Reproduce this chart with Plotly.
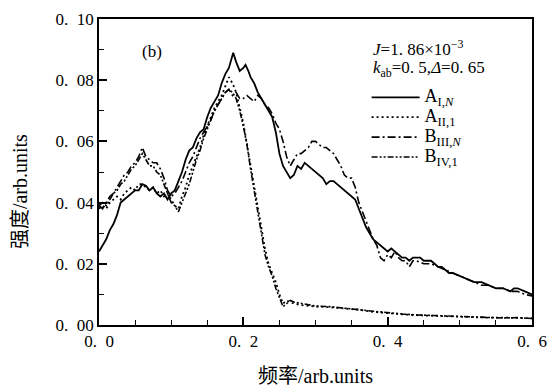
import plotly.graph_objects as go

# ---------------- data ----------------
x_AI = [0.000, 0.005, 0.010, 0.015, 0.020, 0.025, 0.030, 0.035, 0.040, 0.045, 0.050, 0.055, 0.060, 0.065,
        0.070, 0.075, 0.080, 0.085, 0.090, 0.095, 0.100, 0.105, 0.110, 0.115, 0.120, 0.125, 0.130, 0.135,
        0.140, 0.145, 0.150, 0.155, 0.160, 0.165, 0.170, 0.175, 0.180, 0.183, 0.186, 0.190, 0.195, 0.200,
        0.203, 0.207, 0.210, 0.215, 0.220, 0.225, 0.230, 0.235, 0.240, 0.245, 0.250, 0.255, 0.260, 0.265,
        0.270, 0.275, 0.280, 0.285, 0.290, 0.295, 0.300, 0.305, 0.310, 0.315, 0.320, 0.325, 0.330, 0.335,
        0.340, 0.345, 0.350, 0.355, 0.360, 0.365, 0.370, 0.375, 0.380, 0.385, 0.390, 0.395, 0.400, 0.405,
        0.410, 0.415, 0.420, 0.425, 0.430, 0.435, 0.440, 0.445, 0.450, 0.455, 0.460, 0.465, 0.470, 0.475,
        0.480, 0.485, 0.490, 0.500, 0.510, 0.520, 0.530, 0.540, 0.550, 0.560, 0.570, 0.575, 0.580, 0.590,
        0.600]
y_AI = [0.024, 0.026, 0.028, 0.031, 0.033, 0.036, 0.040, 0.041, 0.042, 0.043, 0.044, 0.044, 0.046, 0.0455,
        0.044, 0.045, 0.043, 0.042, 0.043, 0.041, 0.043, 0.044, 0.047, 0.050, 0.054, 0.057, 0.058, 0.061,
        0.063, 0.064, 0.068, 0.071, 0.073, 0.075, 0.079, 0.082, 0.084, 0.087, 0.089, 0.086, 0.083, 0.084,
        0.085, 0.083, 0.081, 0.079, 0.076, 0.074, 0.072, 0.070, 0.068, 0.063, 0.056, 0.052, 0.050, 0.048,
        0.049, 0.052, 0.051, 0.053, 0.052, 0.051, 0.050, 0.049, 0.048, 0.046, 0.047, 0.047, 0.046, 0.045,
        0.044, 0.043, 0.042, 0.041, 0.038, 0.035, 0.032, 0.030, 0.028, 0.027, 0.026, 0.025, 0.024, 0.025,
        0.024, 0.023, 0.022, 0.022, 0.021, 0.022, 0.022, 0.022, 0.021, 0.021, 0.021, 0.020, 0.019, 0.019,
        0.018, 0.017, 0.017, 0.016, 0.015, 0.014, 0.014, 0.013, 0.012, 0.012, 0.011, 0.012, 0.012, 0.011,
        0.010]

x_AII = [0.000, 0.005, 0.010, 0.015, 0.020, 0.025, 0.030, 0.035, 0.040, 0.045, 0.050, 0.055, 0.060, 0.065,
         0.070, 0.075, 0.080, 0.085, 0.090, 0.095, 0.100, 0.105, 0.110, 0.115, 0.120, 0.125, 0.130, 0.135,
         0.140, 0.145, 0.150, 0.155, 0.160, 0.165, 0.170, 0.175, 0.180, 0.185, 0.190, 0.195, 0.200, 0.205,
         0.210, 0.215, 0.220, 0.225, 0.230, 0.235, 0.240, 0.245, 0.250, 0.255, 0.260, 0.270, 0.280, 0.300,
         0.320, 0.340, 0.360, 0.380, 0.400, 0.420, 0.440, 0.460, 0.480, 0.500, 0.520, 0.540, 0.560, 0.580,
         0.600]
y_AII = [0.038, 0.039, 0.038, 0.040, 0.041, 0.042, 0.041, 0.043, 0.044, 0.045, 0.044, 0.046, 0.046, 0.045,
         0.044, 0.045, 0.043, 0.044, 0.042, 0.043, 0.041, 0.039, 0.038, 0.042, 0.045, 0.049, 0.052, 0.055,
         0.058, 0.062, 0.065, 0.068, 0.071, 0.073, 0.075, 0.078, 0.081, 0.079, 0.076, 0.071, 0.066, 0.059,
         0.052, 0.045, 0.039, 0.032, 0.025, 0.020, 0.017, 0.014, 0.010, 0.007, 0.008, 0.007, 0.0065, 0.006,
         0.0058, 0.0055, 0.005, 0.0043, 0.0038, 0.0035, 0.0032, 0.0030, 0.0028, 0.0027, 0.0025, 0.0024, 0.0024, 0.0023,
         0.0022]

x_BIII = [0.000, 0.005, 0.010, 0.015, 0.020, 0.025, 0.030, 0.035, 0.040, 0.045, 0.050, 0.055, 0.060, 0.065,
          0.070, 0.075, 0.080, 0.085, 0.090, 0.095, 0.100, 0.105, 0.110, 0.115, 0.120, 0.125, 0.130, 0.135,
          0.140, 0.145, 0.150, 0.155, 0.160, 0.165, 0.170, 0.175, 0.180, 0.185, 0.190, 0.195, 0.200, 0.205,
          0.210, 0.215, 0.220, 0.225, 0.230, 0.235, 0.240, 0.245, 0.250, 0.255, 0.260, 0.265, 0.270, 0.275,
          0.280, 0.285, 0.290, 0.295, 0.300, 0.305, 0.310, 0.315, 0.320, 0.325, 0.330, 0.335, 0.340, 0.345,
          0.350, 0.355, 0.360, 0.365, 0.370, 0.375, 0.380, 0.385, 0.390, 0.395, 0.400, 0.405, 0.410, 0.415,
          0.420, 0.425, 0.430, 0.435, 0.440, 0.450, 0.460, 0.470, 0.480, 0.490, 0.500, 0.510, 0.520, 0.530,
          0.540, 0.550, 0.560, 0.570, 0.580, 0.590, 0.600]
y_BIII = [0.039, 0.038, 0.040, 0.042, 0.043, 0.045, 0.047, 0.049, 0.050, 0.052, 0.053, 0.055, 0.058, 0.055,
          0.054, 0.053, 0.053, 0.051, 0.048, 0.044, 0.042, 0.043, 0.045, 0.047, 0.050, 0.053, 0.055, 0.058,
          0.061, 0.063, 0.065, 0.067, 0.070, 0.072, 0.074, 0.076, 0.077, 0.075, 0.076, 0.074, 0.074, 0.075,
          0.074, 0.073, 0.075, 0.074, 0.072, 0.071, 0.069, 0.066, 0.064, 0.060, 0.055, 0.052, 0.054, 0.056,
          0.056, 0.057, 0.058, 0.060, 0.060, 0.059, 0.058, 0.058, 0.057, 0.056, 0.054, 0.052, 0.049, 0.048,
          0.048, 0.045, 0.040, 0.037, 0.034, 0.031, 0.028, 0.026, 0.022, 0.021, 0.023, 0.022, 0.024, 0.022,
          0.021, 0.021, 0.019, 0.021, 0.021, 0.020, 0.020, 0.019, 0.018, 0.017, 0.016, 0.015, 0.014, 0.013,
          0.013, 0.012, 0.012, 0.011, 0.011, 0.010, 0.0095]

x_BIV = [0.000, 0.005, 0.010, 0.015, 0.020, 0.025, 0.030, 0.035, 0.040, 0.045, 0.050, 0.055, 0.060, 0.065,
         0.070, 0.075, 0.080, 0.085, 0.090, 0.095, 0.100, 0.105, 0.110, 0.115, 0.120, 0.125, 0.130, 0.135,
         0.140, 0.145, 0.150, 0.155, 0.160, 0.165, 0.170, 0.175, 0.180, 0.185, 0.190, 0.195, 0.200, 0.205,
         0.210, 0.215, 0.220, 0.225, 0.230, 0.235, 0.240, 0.245, 0.250, 0.255, 0.260, 0.265, 0.270, 0.280,
         0.300, 0.320, 0.340, 0.360, 0.380, 0.400, 0.420, 0.440, 0.460, 0.480, 0.500, 0.520, 0.540, 0.560,
         0.580, 0.600]
y_BIV = [0.039, 0.040, 0.039, 0.041, 0.043, 0.044, 0.046, 0.047, 0.049, 0.051, 0.052, 0.054, 0.056, 0.054,
         0.052, 0.052, 0.050, 0.049, 0.046, 0.043, 0.040, 0.039, 0.037, 0.040, 0.043, 0.046, 0.050, 0.054,
         0.057, 0.061, 0.064, 0.067, 0.070, 0.072, 0.074, 0.076, 0.077, 0.076, 0.074, 0.070, 0.065, 0.059,
         0.051, 0.044, 0.037, 0.030, 0.023, 0.019, 0.016, 0.012, 0.009, 0.006, 0.007, 0.008, 0.0075, 0.007,
         0.0062, 0.0060, 0.0056, 0.0050, 0.0045, 0.0040, 0.0036, 0.0033, 0.0031, 0.0029, 0.0027, 0.0026, 0.0025, 0.0023,
         0.0024, 0.0021]

series_names = ["A<sub>I,<i>N</i></sub>", "A<sub>II,1</sub>", "B<sub>III,<i>N</i></sub>", "B<sub>IV,1</sub>"]

SP = "\u2002"  # wide gap after the decimal point, as in the original typesetting
x_tick_vals = [0.0, 0.2, 0.4, 0.6]
x_tick_text = ["0." + SP + "0", "0." + SP + "2", "0." + SP + "4", "0." + SP + "6"]
y_tick_vals = [0.00, 0.02, 0.04, 0.06, 0.08, 0.10]
y_tick_text = ["0." + SP + "00", "0." + SP + "02", "0." + SP + "04", "0." + SP + "06", "0." + SP + "08", "0." + SP + "10"]

x_title = "频率/arb.units"
y_title = "强度/arb.units"
note_J = "<i>J</i>=1. 86×10<sup>−3</sup>"
note_k = "<i>k</i><sub>ab</sub>=0. 5,<i>Δ</i>=0. 65"
panel_label = "(b)"

# ---------------- figure ----------------
FONT = "Liberation Serif, Noto Sans CJK SC, serif"
fig = go.Figure()
styles = [
    dict(dash="solid", width=1.8),
    dict(dash="2px,3px", width=1.8),
    dict(dash="8px,3px,2px,3px", width=1.6),
    dict(dash="6px,2px,2px,2px,2px,2px", width=1.6),
]
data = [(x_AI, y_AI), (x_AII, y_AII), (x_BIII, y_BIII), (x_BIV, y_BIV)]
for (xs, ys), name, st in zip(data, series_names, styles):
    fig.add_trace(go.Scatter(x=xs, y=ys, mode="lines",
                             name='<span style="font-size:18px">' + name + '</span>',
                             line=dict(color="black", width=st["width"], dash=st["dash"])))

axis_common = dict(showline=True, linecolor="black", linewidth=1.5, mirror=True,
                   ticks="inside", ticklen=8, tickwidth=1.5, tickcolor="black",
                   showgrid=False, zeroline=False,
                   tickfont=dict(family=FONT, size=17, color="black"))
fig.update_xaxes(range=[0, 0.6], tickvals=x_tick_vals, ticktext=x_tick_text,
                 minor=dict(ticks="inside", ticklen=5, tickwidth=1.3, dtick=0.05, tickcolor="black", showgrid=False),
                 title=dict(text=x_title, font=dict(family=FONT, size=20, color="black"), standoff=19),
                 **axis_common)
fig.update_yaxes(range=[0, 0.1], tickvals=y_tick_vals, ticktext=y_tick_text,
                 minor=dict(ticks="inside", ticklen=5, tickwidth=1.3, dtick=0.01, tickcolor="black", showgrid=False),
                 **axis_common)

# y-axis title placed as rotated text (it sits below the axis centre in the original)
fig.add_annotation(text=y_title, xref="paper", yref="paper", x=-0.182, y=0.435,
                   textangle=-90, showarrow=False, xanchor="center", yanchor="middle",
                   font=dict(family=FONT, size=20, color="black"))
fig.add_annotation(text=panel_label, xref="paper", yref="paper", x=0.095, y=0.895,
                   showarrow=False, xanchor="left", yanchor="middle",
                   font=dict(family=FONT, size=17, color="black"))
fig.add_annotation(text=note_J, xref="paper", yref="paper",
                   x=0.628, y=0.905, showarrow=False, xanchor="left", yanchor="middle",
                   font=dict(family=FONT, size=17, color="black"))
fig.add_annotation(text=note_k, xref="paper", yref="paper",
                   x=0.628, y=0.835, showarrow=False, xanchor="left", yanchor="middle",
                   font=dict(family=FONT, size=17, color="black"))

fig.update_layout(
    width=555, height=392,
    margin=dict(l=99, r=23, t=19, b=67, autoexpand=False),
    paper_bgcolor="white", plot_bgcolor="white",
    showlegend=True,
    legend=dict(x=0.618, y=0.793, xanchor="left", yanchor="top",
                bgcolor="rgba(0,0,0,0)", borderwidth=0,
                font=dict(family=FONT, size=13, color="black"),
                tracegroupgap=0, itemwidth=48),
    font=dict(family=FONT, color="black"),
)

fig.write_html("out.html", config={"displayModeBar": False},
               post_script="document.body.style.margin='0';")
